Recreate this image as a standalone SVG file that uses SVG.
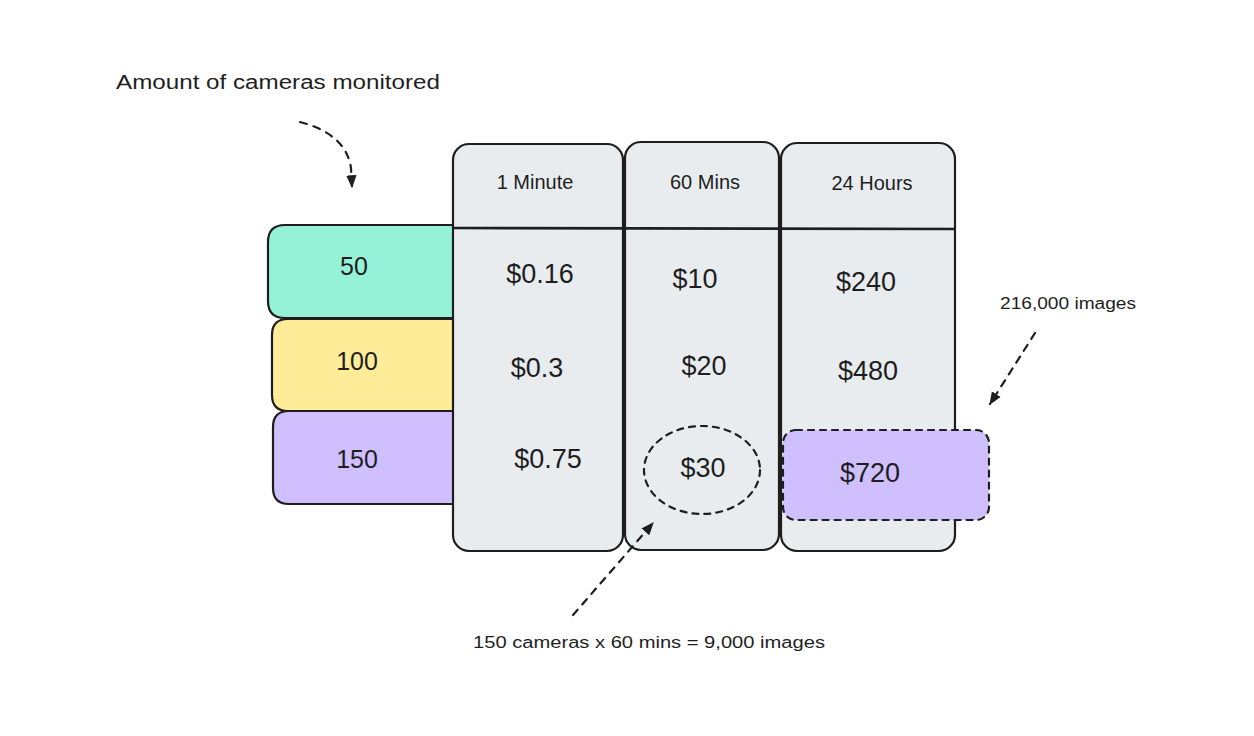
<svg xmlns="http://www.w3.org/2000/svg" width="1254" height="736" viewBox="0 0 1254 736">
<style>
.ink{stroke:#1e1e1e;stroke-width:2.2;fill:none;stroke-linecap:round;stroke-linejoin:round}
.col{fill:#e9ecef;stroke:#1e1e1e;stroke-width:2.2}
.dash{stroke-dasharray:7 7}
.t{font-family:"Liberation Sans","DejaVu Sans",sans-serif;fill:#1e1e1e;text-anchor:middle}
.hd{font-size:20px}
.val{font-size:27px}
.row{font-size:25px}
.note{font-size:16px}
.teal{fill:#96f2d7}
.yel{fill:#ffec99}
.vio{fill:#d0bfff}
</style>
<defs>
<marker id="ah" viewBox="0 0 10 10" refX="9" refY="5" markerWidth="13" markerHeight="13" orient="auto" markerUnits="userSpaceOnUse">
<path d="M0 1 L10 5 L0 9 Z" fill="#1e1e1e"/>
</marker>
</defs>
<rect width="1254" height="736" fill="#ffffff"/>

<g id="row-50">
<path d="M453 225 L285 225 Q268 225 268 242 L268 301 Q268 318 285 318 L453 318" class="ink teal"/>
<text class="t row" x="354" y="275">50</text>
</g>
<g id="row-100">
<path d="M453 319 L288 319 Q272 319 272 335 L272 395 Q272 411 288 411 L453 411" class="ink yel"/>
<text class="t row" x="357" y="370">100</text>
</g>
<g id="row-150">
<path d="M453 411 L289 411 Q273 411 273 427 L273 488 Q273 504 289 504 L453 504" class="ink vio"/>
<text class="t row" x="357" y="468">150</text>
</g>

<g id="col-1min">
<rect class="col" x="453" y="144" width="170" height="407" rx="16"/>
<text class="t hd" x="535" y="189">1 Minute</text>
<text class="t val" x="540" y="283">$0.16</text>
<text class="t val" x="537" y="377">$0.3</text>
<text class="t val" x="548" y="468">$0.75</text>
</g>
<g id="col-60min">
<rect class="col" x="625" y="142" width="154" height="408" rx="16"/>
<text class="t hd" x="705" y="189">60 Mins</text>
<text class="t val" x="695" y="288">$10</text>
<text class="t val" x="704" y="375">$20</text>
<text class="t val" x="703" y="477">$30</text>
</g>
<g id="col-24h">
<rect class="col" x="781" y="143" width="174" height="408" rx="16"/>
<text class="t hd" x="872" y="190">24 Hours</text>
<text class="t val" x="866" y="291">$240</text>
<text class="t val" x="868" y="380">$480</text>
</g>

<g id="header-line">
<line x1="453" y1="228" x2="956" y2="229" stroke="#1e1e1e" stroke-width="2.6"/>
</g>

<g id="highlight-30">
<ellipse cx="702" cy="470" rx="58" ry="44" class="ink" stroke-dasharray="6 6"/>
</g>
<g id="highlight-720">
<rect x="783" y="430" width="206" height="90" rx="13" class="ink vio" stroke-dasharray="6 6"/>
<text class="t val" x="870" y="482">$720</text>
</g>

<g id="connectors">
<path d="M300 122 Q346 134 351 168 L352 187" class="ink dash" marker-end="url(#ah)"/>
<path d="M1035 333 L990 404" class="ink dash" marker-end="url(#ah)"/>
<path d="M573 615 L653 523" class="ink dash" marker-end="url(#ah)"/>
</g>

<g id="labels">
<text class="t" x="278" y="89" font-size="20" textLength="324" lengthAdjust="spacingAndGlyphs">Amount of cameras monitored</text>
<text class="t note" x="1068" y="309" textLength="136" lengthAdjust="spacingAndGlyphs">216,000 images</text>
<text class="t note" x="649" y="648" textLength="352" lengthAdjust="spacingAndGlyphs">150 cameras x 60 mins = 9,000 images</text>
</g>
</svg>
